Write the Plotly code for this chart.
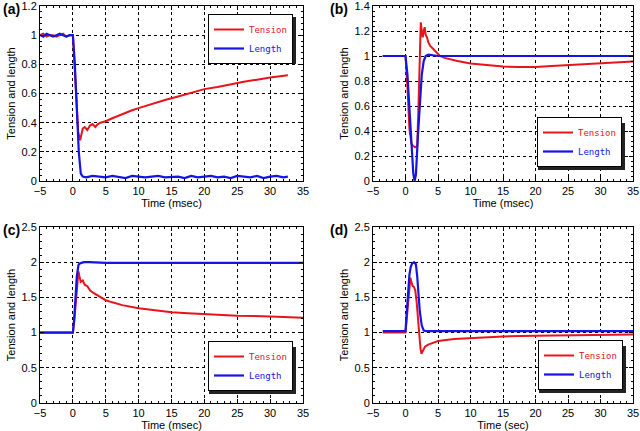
import plotly.graph_objects as go

# ---- data ------------------------------------------------------------------
# (a) release
a_ten_time = [-5, -4.5, -4, -3.5, -3, -2.5, -2, -1.5, -1, -0.5, 0, 0.2, 0.4, 0.6, 0.8, 1.1,
              1.3, 1.5, 1.8, 2.2, 2.6, 3.0, 3.4, 3.8, 4.2, 5, 6, 7, 8, 9, 10, 12, 14, 16,
              18, 20, 22, 24, 26, 28, 30, 32.7]
a_tension = [1.0, 1.01, 0.99, 1.0, 1.0, 0.99, 1.0, 1.01, 0.99, 1.0, 1.0, 0.85, 0.65, 0.47, 0.34, 0.28,
             0.33, 0.36, 0.37, 0.35, 0.38, 0.39, 0.37, 0.39, 0.40, 0.41, 0.43, 0.45, 0.47, 0.485, 0.50, 0.53, 0.555, 0.58,
             0.605, 0.63, 0.645, 0.665, 0.68, 0.695, 0.71, 0.725]
a_len_time = [-5, -4.5, -4, -3.5, -3, -2.5, -2, -1.5, -1, -0.5, 0, 0.3, 0.6, 0.9, 1.2, 1.5,
              2, 3, 4, 5, 6, 7, 8, 9, 10, 11, 12, 13, 14, 15, 16, 17, 18, 19, 20, 21, 22,
              23, 24, 25, 26, 27, 28, 29, 30, 31, 32, 32.7]
a_length = [1.0, 0.99, 1.01, 1.0, 0.99, 1.0, 1.01, 1.0, 0.99, 1.0, 1.0, 0.8, 0.5, 0.2, 0.05, 0.03,
            0.025, 0.035, 0.03, 0.025, 0.035, 0.03, 0.02, 0.035, 0.03, 0.025, 0.03, 0.035, 0.025, 0.03, 0.03, 0.02,
            0.035, 0.025, 0.03, 0.035, 0.025, 0.03, 0.02, 0.035, 0.03, 0.025, 0.035, 0.02, 0.03, 0.035, 0.025, 0.03]

# (b) release and restretch
b_ten_time = [-3.5, -2, -1, 0, 0.3, 0.6, 0.9, 1.2, 1.5, 1.8, 2.0, 2.2, 2.35, 2.5, 2.65, 2.8,
              2.95, 3.1, 3.3, 3.5, 3.8, 4.2, 4.7, 5.3, 6, 7, 8, 10, 12.5, 15, 17.5, 20, 22.5,
              25, 27.5, 30, 32.5, 35]
b_tension = [1.0, 1.0, 1.0, 1.0, 0.75, 0.42, 0.30, 0.28, 0.27, 0.28, 0.6, 1.05, 1.27, 1.2, 1.15, 1.2,
             1.23, 1.17, 1.15, 1.11, 1.08, 1.06, 1.03, 1.0, 0.985, 0.97, 0.96, 0.94, 0.925, 0.915, 0.911, 0.912, 0.92,
             0.928, 0.936, 0.944, 0.95, 0.955]
b_len_time = [-3.5, -2, -1, 0, 0.3, 0.6, 0.9, 1.2, 1.4, 1.6, 1.9, 2.2, 2.5, 2.8, 3.1, 3.5,
              5, 10, 15, 20, 25, 30, 35]
b_length = [1.0, 1.0, 1.0, 1.0, 0.85, 0.6, 0.3, 0.06, 0.0, 0.05, 0.35, 0.65, 0.85, 0.96, 1.0, 1.01,
            1.0, 1.0, 1.0, 1.0, 1.0, 1.0, 1.0]

# (c) stretch
c_ten_time = [-5, -2.5, 0, 0.2, 0.4, 0.6, 0.85, 1.0, 1.2, 1.5, 1.8, 2.2, 2.6, 3.0, 3.5, 4,
              5, 6, 7.5, 10, 12.5, 15, 17.5, 20, 25, 30, 35]
c_tension = [1.0, 1.0, 1.0, 1.15, 1.4, 1.65, 1.87, 1.8, 1.72, 1.74, 1.68, 1.66, 1.6, 1.57, 1.54, 1.51,
             1.46, 1.43, 1.39, 1.345, 1.315, 1.29, 1.275, 1.26, 1.24, 1.23, 1.21]
c_len_time = [-5, -2.5, 0, 0.2, 0.4, 0.6, 0.85, 1.0, 1.3, 1.7, 2.5, 5, 10, 15, 20, 25, 30, 35]
c_length = [1.0, 1.0, 1.0, 1.2, 1.5, 1.8, 1.96, 1.98, 1.99, 2.0, 2.0, 1.99, 1.99, 1.99, 1.99, 1.99, 1.99, 1.99]

# (d) stretch and release
d_ten_time = [-3.5, -2, 0, 0.2, 0.4, 0.6, 0.75, 0.9, 1.1, 1.3, 1.5, 1.7, 1.9, 2.1, 2.3, 2.45,
              2.7, 3.0, 3.5, 4, 5, 7.5, 10, 15, 20, 25, 30, 35]
d_tension = [1.0, 1.0, 1.0, 1.2, 1.45, 1.7, 1.78, 1.72, 1.66, 1.65, 1.6, 1.45, 1.2, 0.95, 0.78, 0.7,
             0.74, 0.8, 0.83, 0.85, 0.88, 0.91, 0.925, 0.945, 0.955, 0.962, 0.968, 0.972]
d_len_time = [-3.5, -2, 0, 0.2, 0.4, 0.6, 0.8, 1.0, 1.3, 1.6, 1.8, 2.0, 2.2, 2.5, 2.8, 3.2,
              5, 10, 20, 30, 35]
d_length = [1.02, 1.02, 1.02, 1.3, 1.6, 1.82, 1.93, 1.98, 2.0, 1.97, 1.8, 1.55, 1.3, 1.1, 1.03, 1.02,
            1.02, 1.02, 1.02, 1.02, 1.02]

panels = [
    ("(a)", a_ten_time, a_tension, a_len_time, a_length, "Time (msec)", [0, 1.2], 0.2, 0.04),
    ("(b)", b_ten_time, b_tension, b_len_time, b_length, "Time (msec)", [0, 1.4], 0.2, 0.04),
    ("(c)", c_ten_time, c_tension, c_len_time, c_length, "Time (msec)", [0, 2.5], 0.5, 0.1),
    ("(d)", d_ten_time, d_tension, d_len_time, d_length, "Time (sec)", [0, 2.5], 0.5, 0.1),
]

W, H = 640, 431
# plot frames in pixels: left, right, top, bottom
frames = [(40, 303, 6, 181), (373, 633, 6, 181), (40, 303, 227, 403), (373, 633, 227, 403)]
# legend anchor in pixels: x of right edge, y of edge, which edge
legend_pos = [(293, 14, "top"), (622, 167, "bottom"), (293, 391, "bottom"), (623, 390, "bottom")]
LEG_W, LEG_H = 87, 47   # rendered legend box size, used for the drop shadow

RED = "#e8141b"
BLUE = "#1414e6"
FONT = "Liberation Sans, Arial, sans-serif"

fig = go.Figure()
layout = dict(
    template="none",
    width=W, height=H, margin=dict(l=0, r=0, t=0, b=0),
    paper_bgcolor="white", plot_bgcolor="white",
    font=dict(family=FONT, size=11, color="black"),
    annotations=[], shapes=[],
)

for i, (lab, tt, tv, lt, lv, xtitle, yr, dy, mdy) in enumerate(panels):
    n = "" if i == 0 else str(i + 1)
    leg = "legend" + n
    fig.add_trace(go.Scatter(x=tt, y=tv, mode="lines", line=dict(color=RED, width=2),
                             name="<span style='color:%s'>Tension</span>" % RED,
                             xaxis="x" + n, yaxis="y" + n, legend=leg))
    fig.add_trace(go.Scatter(x=lt, y=lv, mode="lines", line=dict(color=BLUE, width=2.2),
                             name="<span style='color:%s'>Length</span>" % BLUE,
                             xaxis="x" + n, yaxis="y" + n, legend=leg))
    l, r, t, b = frames[i]
    common = dict(showline=True, linecolor="black", linewidth=1, mirror="allticks",
                  ticks="inside", ticklen=4, tickcolor="black", automargin=False,
                  ticklabeloverflow="allow",
                  showgrid=True, gridcolor="black", griddash="dot", gridwidth=1,
                  zeroline=False, tickfont=dict(size=11, family=FONT))
    layout["xaxis" + n] = dict(common, domain=[l / W, r / W], range=[-5, 35], dtick=5,
                               anchor="y" + n,
                               minor=dict(dtick=1, ticks="inside", ticklen=2, tickcolor="black", showgrid=False),
                               title=dict(text=xtitle, standoff=3, font=dict(size=11)))
    layout["yaxis" + n] = dict(common, domain=[1 - b / H, 1 - t / H], range=yr, dtick=dy,
                               anchor="x" + n,
                               minor=dict(dtick=mdy, ticks="inside", ticklen=2, tickcolor="black", showgrid=False),
                               title=dict(text="Tension and length", standoff=3, font=dict(size=11)))
    lx, ly, edge = legend_pos[i]
    layout[leg] = dict(x=lx / W, y=1 - ly / H, xanchor="right", yanchor=edge,
                       bgcolor="white", bordercolor="black", borderwidth=1,
                       font=dict(family="DejaVu Sans Mono, monospace", size=9),
                       tracegroupgap=0, itemwidth=30)
    # drop shadow behind the legend box
    top = ly if edge == "top" else ly - LEG_H
    layout["shapes"].append(dict(type="rect", xref="paper", yref="paper", layer="above",
                                 x0=(lx - LEG_W + 3) / W, x1=(lx + 3) / W,
                                 y0=1 - (top + LEG_H + 3) / H, y1=1 - (top + 3) / H,
                                 fillcolor="#222222", line=dict(width=0)))
    layout["annotations"].append(dict(text="<b>%s</b>" % lab, xref="paper", yref="paper",
                                      x=(1 if l < 100 else 328) / W, y=1 - (t + 3) / H,
                                      xanchor="left", yanchor="middle", showarrow=False,
                                      font=dict(size=14, family=FONT)))

fig.update_layout(**layout)
# the page's default body margin would shift the figure by 8px
fig.write_html("out.html", config={"displayModeBar": False},
               post_script="document.body.style.margin='0';")
